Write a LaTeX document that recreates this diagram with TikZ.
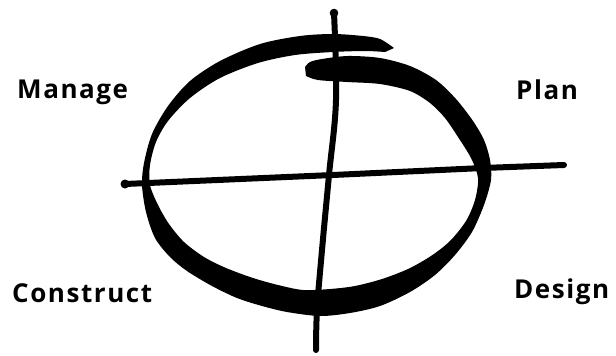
\documentclass[tikz,border=0pt]{standalone}
\usepackage{fontspec}
\newfontfamily\lblfont[LetterSpace=6]{Open Sans}
\usetikzlibrary{positioning, calc}
\tikzset{
  lbl/.style   = {font=\lblfont\bfseries\fontsize{26}{30}\selectfont,
                  anchor=base west, inner sep=0pt},
  axis/.style  = {line width=6pt, line cap=round, black},
  blob/.style  = {fill=black},
  brush/.style = {fill=black}
}

\begin{document}
\begin{tikzpicture}[x=1pt, y=-1pt]
  \useasboundingbox (0,0) rectangle (616,356);

  % ── Quadrant labels ───────────────────────────────────────────────────────
  \node[lbl] (manage)    at (17,98)  {Manage};
  \node[lbl] (plan)      at (516,99) {Plan};
  \node[lbl] (construct) at (12,302) {Construct};
  \node[lbl] (design)    at (514,298) {Design};

  % ── Brush-stroke cycle (one spiral stroke) ───────────────────────────────
  \fill[brush]
    plot[smooth, tension=0.5] coordinates {
      (394,48) (380,39) (363,36) (333,34) (300,36) (260,44) (220,61)
      (190,81) (168,106) (152,134) (144,163) (142,185) (146,212)
      (155,238) (170,257) (187,271) (212,286) (237,298) (262,306)
      (287,312) (320,316) (350,313) (380,306) (410,292) (435,275)
      (455,255) (472,232) (484,205) (491,180) (490,160) (484,140)
      (473,121) (456,99) (436,80) (410,66) (380,58) (348,56)
      (322,59) (310,62) (305,67)}
    -- plot[smooth, tension=0.5] coordinates {
      (306,76) (318,80) (347,82) (380,84) (410,91) (430,103) (445,118)
      (458,137) (471,158) (478,178) (475,200) (466,221) (450,241)
      (431,256) (408,269) (382,279) (355,286) (330,289) (303,290)
      (278,285) (253,278) (226,268) (204,257) (184,242) (169,224)
      (158,205) (150,185) (150,165) (156,142) (168,121) (190,98)
      (220,78) (258,63) (295,55) (333,52) (365,51) (385,52)}
    -- cycle;

  % ── Axes ──────────────────────────────────────────────────────────────────
  \coordinate (vTop)   at (334,13);
  \coordinate (vBot)   at (316,350);
  \coordinate (hLeft)  at (125,184);
  \coordinate (hRight) at (564,165);

  % vertical axis, slightly bent
  \draw[axis] plot[smooth, tension=0.6] coordinates {
      (vTop) (336,100) (329,175) (322,250) (317,310) (vBot)};
  \fill[blob] (vTop) circle (4.3);

  % horizontal axis
  \draw[axis] (hLeft) -- (333,175) -- (483,168) -- (hRight);
  \fill[blob] (hLeft) circle (4.5);

\end{tikzpicture}
\end{document}
